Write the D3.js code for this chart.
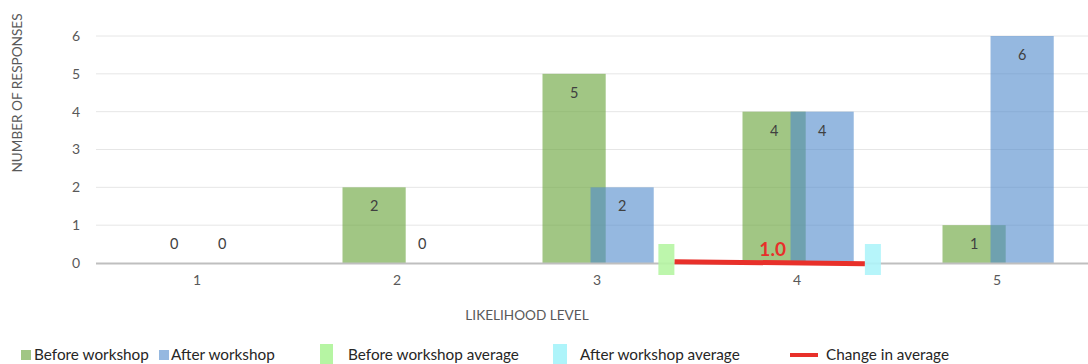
<!DOCTYPE html>
<html>
<head>
<meta charset="utf-8">
<script src="https://cdn.jsdelivr.net/npm/d3@7"></script>
<style>
  html, body { margin: 0; padding: 0; background: #fff; }
  svg { display: block; font-family: Lato, "Open Sans", sans-serif; }
</style>
</head>
<body>
<svg id="chart" width="1088" height="364"></svg>
<script>
// Likelihood levels and response counts
const levels = ["1", "2", "3", "4", "5"];
const beforeCounts = [0, 2, 5, 4, 1];
const afterCounts = [0, 0, 2, 4, 6];
const yTicks = [0, 1, 2, 3, 4, 5, 6];
const beforeAverage = 3.33;
const afterAverage = 4.33;
const changeLabel = "1.0";
const legendItems = ["Before workshop", "After workshop", "Before workshop average", "After workshop average", "Change in average"];

const svg = d3.select("#chart");
const textColor = "#595959";

const x = d3.scaleBand().domain(levels).range([97, 1097]).padding(0);
const y = d3.scaleLinear().domain([0, 6]).range([263, 36]);
// continuous axis for the average markers
const avgX = d3.scaleLinear().domain([0.5, 5.5]).range([82, 1114.5]);

const bw = x.bandwidth();
const barW = bw * 0.316;
const greenOff = bw * 0.2275;
const blueOff = greenOff + barW * 0.76;

// gridlines
svg.append("g").selectAll("line").data(yTicks.filter(d => d > 0)).join("line")
  .attr("x1", 96).attr("x2", 1088)
  .attr("y1", d => y(d)).attr("y2", d => y(d))
  .attr("stroke", "#e6e6e6").attr("stroke-width", 1);

// y tick labels
svg.append("g").selectAll("text").data(yTicks).join("text")
  .attr("x", 76).attr("y", d => y(d)).attr("dy", "0.35em")
  .attr("text-anchor", "middle").attr("font-size", 14).attr("fill", textColor)
  .text(d => d);

// y axis title
svg.append("text")
  .attr("transform", "translate(22,93) rotate(-90)")
  .attr("text-anchor", "middle").attr("font-size", 13.6).attr("fill", textColor)
  .text("NUMBER OF RESPONSES");

const greenFill = "rgba(110,168,66,0.65)";
const blueFill = "rgba(78,136,204,0.6)";

// before bars
svg.append("g").selectAll("rect").data(beforeCounts).join("rect")
  .attr("x", (d, i) => x(levels[i]) + greenOff)
  .attr("y", d => y(d)).attr("width", barW)
  .attr("height", d => y(0) - y(d)).attr("fill", greenFill);

// after bars
svg.append("g").selectAll("rect").data(afterCounts).join("rect")
  .attr("x", (d, i) => x(levels[i]) + blueOff)
  .attr("y", d => y(d)).attr("width", barW)
  .attr("height", d => y(0) - y(d)).attr("fill", blueFill);

// zero axis line
svg.append("line").attr("x1", 96).attr("x2", 1088)
  .attr("y1", y(0) + 0.5).attr("y2", y(0) + 0.5)
  .attr("stroke", "#bfbfbf").attr("stroke-width", 2);

// value labels
function labelY(d) { return d > 0 ? y(d) + 19 : y(0) - 19; }
svg.append("g").selectAll("text").data(beforeCounts).join("text")
  .attr("x", (d, i) => x(levels[i]) + greenOff + barW / 2)
  .attr("y", d => labelY(d)).attr("dy", "0.35em")
  .attr("text-anchor", "middle").attr("font-size", 14.5).attr("fill", "#404040")
  .text(d => d);
svg.append("g").selectAll("text").data(afterCounts).join("text")
  .attr("x", (d, i) => x(levels[i]) + blueOff + barW / 2)
  .attr("y", d => labelY(d)).attr("dy", "0.35em")
  .attr("text-anchor", "middle").attr("font-size", 14.5).attr("fill", "#404040")
  .text(d => d);

// x tick labels
svg.append("g").selectAll("text").data(levels).join("text")
  .attr("x", d => x(d) + bw / 2).attr("y", 285)
  .attr("text-anchor", "middle").attr("font-size", 14).attr("fill", textColor)
  .text(d => d);

// x axis title
svg.append("text").attr("x", 527).attr("y", 320)
  .attr("text-anchor", "middle").attr("font-size", 13.6).attr("fill", textColor)
  .text("LIKELIHOOD LEVEL");

// average markers and change line
const mW = 16, mTop = y(0) - 19, mH = 31;
const greenMark = "#b6f5a3";
const cyanMark = "#aef4fa";
const redCol = "#e8302a";
const bx = avgX(beforeAverage), ax = avgX(afterAverage);

svg.append("line")
  .attr("x1", bx + mW / 2).attr("x2", ax - mW / 2)
  .attr("y1", y(0) - 1.3).attr("y2", y(0) + 0.7)
  .attr("stroke", redCol).attr("stroke-width", 5);
svg.append("rect").attr("x", bx - mW / 2).attr("y", mTop)
  .attr("width", mW).attr("height", mH).attr("fill", greenMark).attr("opacity", 0.9);
svg.append("rect").attr("x", ax - mW / 2).attr("y", mTop)
  .attr("width", mW).attr("height", mH).attr("fill", cyanMark).attr("opacity", 0.9);

svg.append("text").attr("x", (bx + ax) / 2 + 3).attr("y", 256)
  .attr("text-anchor", "middle").attr("font-size", 19).attr("font-weight", "bold")
  .attr("fill", redCol).text(changeLabel);

// legend
const lg = svg.append("g").attr("font-size", 15.3).attr("fill", "#262626");
const ly = 355;
lg.append("rect").attr("x", 21).attr("y", ly - 5).attr("width", 10).attr("height", 10).attr("fill", greenFill);
lg.append("text").attr("x", 34).attr("y", ly).attr("dy", "0.35em").text(legendItems[0]);
lg.append("rect").attr("x", 159).attr("y", ly - 5).attr("width", 10).attr("height", 10).attr("fill", blueFill);
lg.append("text").attr("x", 171).attr("y", ly).attr("dy", "0.35em").text(legendItems[1]);
lg.append("rect").attr("x", 320).attr("y", 344).attr("width", 13).attr("height", 22).attr("fill", greenMark);
lg.append("text").attr("x", 348).attr("y", ly).attr("dy", "0.35em").text(legendItems[2]);
lg.append("rect").attr("x", 553).attr("y", 344).attr("width", 14).attr("height", 22).attr("fill", cyanMark);
lg.append("text").attr("x", 580).attr("y", ly).attr("dy", "0.35em").text(legendItems[3]);
lg.append("line").attr("x1", 790).attr("x2", 818).attr("y1", ly).attr("y2", ly)
  .attr("stroke", redCol).attr("stroke-width", 4);
lg.append("text").attr("x", 826).attr("y", ly).attr("dy", "0.35em").text(legendItems[4]);
</script>
</body>
</html>
